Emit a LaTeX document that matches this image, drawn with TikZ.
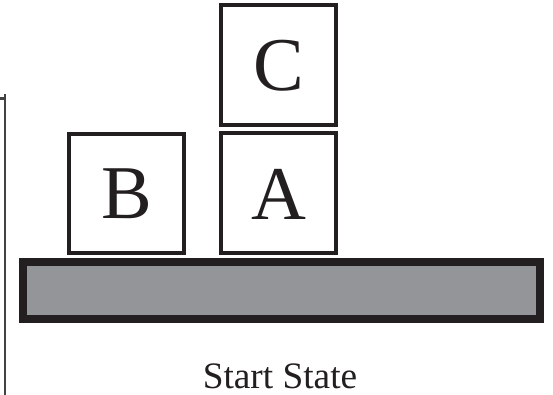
\documentclass[tikz,border=0pt]{standalone}
\usepackage{fontspec}
\setmainfont{Liberation Serif}
\definecolor{ink}{HTML}{231F20}
\definecolor{slab}{HTML}{939598}
\begin{document}
\begin{tikzpicture}[x=0.75pt,y=-0.75pt,
  block/.style={draw=ink,line width=2.8pt},
  letter/.style={font=\fontsize{57}{57}\selectfont,text=ink},
  caption/.style={font=\fontsize{28}{28}\selectfont,text=ink}]
  \useasboundingbox (0,0) rectangle (553,395);
  % left frame line with small tick
  \draw[ink!85,line width=1.6pt] (5,94) -- (5,395);
  \draw[ink!85,line width=1.6pt] (0,98.5) -- (5,98.5);
  % table
  \draw[ink,line width=6pt,fill=slab] (23,262) rectangle (540,319);
  % blocks
  \draw[block] (68.8,133.8) rectangle (184.2,253.2);
  \draw[block] (220.8,132.8) rectangle (336.2,253.2);
  \draw[block] (220.8,4.8) rectangle (336.2,125.2);
  \node[letter] (b) at (126.5,194) {B};
  \node[letter] (a) at (278.5,194) {A};
  \node[letter] (c) at (278.5,66) {C};
  \node[caption] (cap) at (280,376) {Start State};
\end{tikzpicture}
\end{document}
